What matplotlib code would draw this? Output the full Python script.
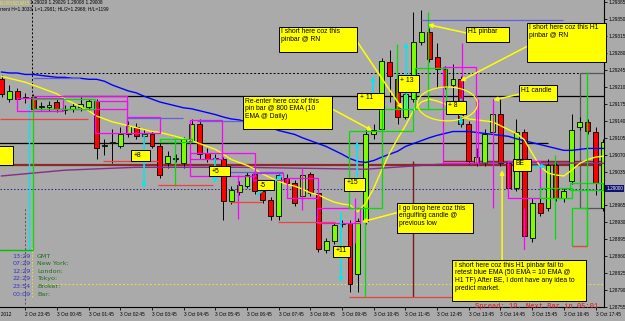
import numpy as np
import matplotlib.pyplot as plt
from matplotlib.patches import Rectangle, Ellipse
from matplotlib.transforms import blended_transform_factory

# EURUSD M15 bars, bar 0 = 2 Oct 23:00
opens = [1.29226, 1.29185, 1.29201, 1.29187, 1.29189, 1.29168, 1.29168, 1.29179, 1.29162, 1.29164,
         1.29168, 1.29168, 1.29181, 1.29087, 1.29095, 1.29089, 1.29113, 1.29128, 1.29109, 1.29113,
         1.29089, 1.29052, 1.29062, 1.29052, 1.29099, 1.29134, 1.29074, 1.29062, 1.29062, 1.28974,
         1.28992, 1.29005, 1.29031, 1.28994, 1.28976, 1.28943, 1.29021, 1.29011, 1.28984, 1.29031,
         1.28990, 1.28872, 1.28892, 1.28927, 1.28929, 1.28823, 1.28933, 1.29113, 1.29123, 1.29261,
         1.29226, 1.29148, 1.29185, 1.29304, 1.29324, 1.29273, 1.29248, 1.29214, 1.29226, 1.29134,
         1.29052, 1.29052, 1.29117, 1.29154, 1.29052, 1.29001, 1.29117, 1.28898, 1.28970, 1.28960,
         1.29048, 1.28980, 1.29015, 1.29128, 1.29138, 1.29117, 1.28960]
highs = [1.29234, 1.29214, 1.29209, 1.29197, 1.29195, 1.29179, 1.29181, 1.29185, 1.29173, 1.29177,
         1.29189, 1.29185, 1.29185, 1.29103, 1.29123, 1.29128, 1.29140, 1.29136, 1.29123, 1.29119,
         1.29095, 1.29078, 1.29072, 1.29107, 1.29144, 1.29144, 1.29083, 1.29072, 1.29066, 1.29005,
         1.29015, 1.29035, 1.29042, 1.29001, 1.28982, 1.29031, 1.29031, 1.29017, 1.29042, 1.29035,
         1.28997, 1.28898, 1.28931, 1.28935, 1.28935, 1.28939, 1.29123, 1.29134, 1.29271, 1.29287,
         1.29230, 1.29205, 1.29365, 1.29369, 1.29332, 1.29302, 1.29254, 1.29257, 1.29232, 1.29140,
         1.29083, 1.29123, 1.29185, 1.29185, 1.29058, 1.29144, 1.29123, 1.28980, 1.28980, 1.29062,
         1.29054, 1.29001, 1.29154, 1.29148, 1.29144, 1.29128, 1.29103]
lows = [1.29189, 1.29179, 1.29177, 1.29177, 1.29158, 1.29162, 1.29160, 1.29158, 1.29154, 1.29158,
        1.29160, 1.29160, 1.29062, 1.29070, 1.29052, 1.29083, 1.29107, 1.29103, 1.29095, 1.29083,
        1.29021, 1.29042, 1.29054, 1.29042, 1.29095, 1.29062, 1.29054, 1.29052, 1.28935, 1.28968,
        1.28986, 1.29001, 1.28988, 1.28970, 1.28935, 1.28935, 1.29005, 1.28964, 1.28980, 1.28984,
        1.28868, 1.28866, 1.28886, 1.28921, 1.28786, 1.28786, 1.28927, 1.29103, 1.29117, 1.29179,
        1.29134, 1.29144, 1.29179, 1.29297, 1.29261, 1.29211, 1.29205, 1.29164, 1.29128, 1.29050,
        1.29046, 1.29046, 1.29111, 1.29046, 1.28980, 1.28994, 1.28874, 1.28890, 1.28943, 1.28954,
        1.28974, 1.28972, 1.29009, 1.29121, 1.29113, 1.28986, 1.28954]
closes = [1.29195, 1.29201, 1.29185, 1.29189, 1.29164, 1.29171, 1.29173, 1.29164, 1.29164, 1.29171,
          1.29175, 1.29181, 1.29083, 1.29091, 1.29097, 1.29113, 1.29130, 1.29109, 1.29113, 1.29089,
          1.29027, 1.29068, 1.29064, 1.29103, 1.29134, 1.29072, 1.29062, 1.29064, 1.28974, 1.28997,
          1.29007, 1.29027, 1.28994, 1.28976, 1.28943, 1.29027, 1.29011, 1.28970, 1.29027, 1.28990,
          1.28874, 1.28892, 1.28925, 1.28929, 1.28802, 1.28933, 1.29113, 1.29121, 1.29263, 1.29232,
          1.29148, 1.29195, 1.29304, 1.29324, 1.29267, 1.29248, 1.29211, 1.29226, 1.29134, 1.29056,
          1.29066, 1.29113, 1.29154, 1.29052, 1.29001, 1.29117, 1.28902, 1.28970, 1.28949, 1.29048,
          1.28980, 1.28994, 1.29121, 1.29138, 1.29119, 1.29011, 1.29097]

# 10 EMA (yellow) and 50 EMA (blue)
ema_fast = [1.29232, 1.29228, 1.29224, 1.29220, 1.29214, 1.29208, 1.29202, 1.29196, 1.29185, 1.29177,
            1.29169, 1.29161, 1.29150, 1.29144, 1.29138, 1.29134, 1.29130, 1.29126, 1.29122, 1.29118,
            1.29116, 1.29112, 1.29108, 1.29103, 1.29099, 1.29093, 1.29087, 1.29081, 1.29071, 1.29060,
            1.29054, 1.29048, 1.29040, 1.29030, 1.29022, 1.29015, 1.29009, 1.29005, 1.28999, 1.28991,
            1.28987, 1.28979, 1.28972, 1.28968, 1.28966, 1.28952, 1.28970, 1.29001, 1.29038, 1.29073,
            1.29103, 1.29130, 1.29161, 1.29179, 1.29185, 1.29181, 1.29175, 1.29165, 1.29150, 1.29144,
            1.29142, 1.29140, 1.29138, 1.29130, 1.29122, 1.29114, 1.29101, 1.29073, 1.29046, 1.29032,
            1.29028, 1.29026, 1.29038, 1.29052, 1.29060, 1.29065, 1.29067]
ema_slow = [1.29241, 1.29239, 1.29239, 1.29236, 1.29236, 1.29234, 1.29232, 1.29230, 1.29230, 1.29228,
            1.29228, 1.29226, 1.29226, 1.29222, 1.29214, 1.29208, 1.29202, 1.29198, 1.29191, 1.29185,
            1.29179, 1.29175, 1.29171, 1.29167, 1.29165, 1.29161, 1.29157, 1.29153, 1.29148, 1.29144,
            1.29142, 1.29138, 1.29134, 1.29130, 1.29126, 1.29120, 1.29116, 1.29112, 1.29105, 1.29099,
            1.29093, 1.29087, 1.29079, 1.29071, 1.29062, 1.29056, 1.29054, 1.29058, 1.29065, 1.29071,
            1.29077, 1.29087, 1.29093, 1.29099, 1.29105, 1.29110, 1.29114, 1.29118, 1.29118, 1.29118,
            1.29116, 1.29114, 1.29112, 1.29110, 1.29108, 1.29103, 1.29099, 1.29095, 1.29091, 1.29087,
            1.29083, 1.29079, 1.29079, 1.29081, 1.29083, 1.29083, 1.29083]
ema_long_bars = [0, 8, 17, 30, 38, 46, 55, 64, 76]
ema_long = [1.29026, 1.29038, 1.29044, 1.29044, 1.29042, 1.29040, 1.29050, 1.29054, 1.29052]

price_ticks = [1.28755, 1.28790, 1.28825, 1.28860, 1.28895, 1.28930, 1.28965, 1.29000, 1.29035,
               1.29070, 1.29105, 1.29140, 1.29175, 1.29210, 1.29245, 1.29280, 1.29315, 1.29350, 1.29385]
time_bars = [3, 7, 11, 15, 19, 23, 27, 31, 35, 39, 43, 47, 51, 55, 59, 63, 67, 71, 75]
time_labels = ["2 Oct 23:45", "3 Oct 00:45", "3 Oct 01:45", "3 Oct 02:45", "3 Oct 03:45",
               "3 Oct 04:45", "3 Oct 05:45", "3 Oct 06:45", "3 Oct 07:45", "3 Oct 08:45",
               "3 Oct 09:45", "3 Oct 10:45", "3 Oct 11:45", "3 Oct 12:45", "3 Oct 13:45",
               "3 Oct 14:45", "3 Oct 15:45", "3 Oct 16:45", "3 Oct 17:45"]
bid = 1.29000

clock_times = ["13:29", "07:29", "12:29", "22:29", "23:54", "00:09"]
clock_names = ["GMT", "New York:", "London:", "Tokyo:", "Broker:", "Bar:"]

# trade notes: text, bar from, bar to, price low, price high
notes = [
    ("I short here coz this\npinbar @ RN", 35.0, 44.9, 1.29282, 1.29335),
    ("H1 pinbar", 58.65, 64.1, 1.29304, 1.29335),
    ("I short here coz this H1\npinbar @ RN", 66.35, 76.3, 1.29261, 1.29343),
    ("H1 candle", 65.3, 70.1, 1.29181, 1.29214),
    ("+ 13", 50.06, 52.7, 1.29200, 1.29234),
    ("+ 11", 44.9, 48.3, 1.29165, 1.29198),
    ("+ 8", 56.1, 58.65, 1.29155, 1.29181),
    ("Re-enter here coz of this\npin bar @ 800 EMA (10\nEMA @ Daily)", 30.5, 41.7, 1.29124, 1.29191),
    ("+8", 16.35, 18.75, 1.29056, 1.29079),
    ("+5", 26.2, 28.85, 1.29026, 1.29046),
    ("-5", 32.26, 34.4, 1.28997, 1.29017),
    ("+15", 43.25, 45.9, 1.28995, 1.29022),
    ("BE", 64.6, 66.86, 1.29036, 1.29062),
    ("+11", 41.85, 44.0, 1.28858, 1.28882),
    ("I go long here coz this\nengulfing candle @\nprevious low", 49.9, 59.5, 1.28909, 1.28970),
    ("I short here coz this H1 pinbar fail to\nretest blue EMA (50 EMA = 10 EMA @\n"
     "H1 TF) After BE, I dont have any idea to\npredict market.", 56.9, 73.8, 1.28768, 1.28852),
    ("", -0.5, 1.45, 1.29048, 1.29089),
]
note_arrows = [(44.9, 1.29304, 50.6, 1.29165), (58.65, 1.29322, 53.85, 1.29339),
               (66.35, 1.29294, 57.9, 1.29222), (65.3, 1.29195, 62.1, 1.29183),
               (41.7, 1.29165, 46.8, 1.29120), (49.9, 1.28950, 45.5, 1.28931),
               (63.2, 1.28852, 63.2, 1.29038)]
trade_arrows = [(18.0, 1.29110, 18.0, 1.29001), (26.95, 1.29062, 26.95, 1.29011),
                (32.3, 1.28987, 35.5, 1.29028), (44.9, 1.29022, 44.9, 1.29097),
                (46.9, 1.29165, 46.9, 1.29232), (51.1, 1.29165, 51.1, 1.29302),
                (58.0, 1.29185, 58.0, 1.29130), (67.1, 1.29046, 68.75, 1.29046),
                (42.86, 1.28950, 42.86, 1.28807)]

# drawn boxes: bar from, bar to, price low, price high
pink_boxes = [(2.0, 7.8, 1.29161, 1.29187), (4.0, 15.85, 1.29164, 1.29191), (11.8, 15.85, 1.29114, 1.29181),
              (15.85, 20.0, 1.29114, 1.29148), (23.8, 27.8, 1.29062, 1.29142), (23.8, 32.0, 1.29026, 1.29073),
              (31.8, 35.5, 1.29017, 1.29032), (36.0, 40.0, 1.28981, 1.29022), (55.8, 59.9, 1.29052, 1.29251),
              (64.0, 68.0, 1.28981, 1.29056), (39.8, 45.3, 1.28929, 1.28960)]
pink_lines = [(29.9, 1.28936, 1.29028), (37.9, 1.28956, 1.29042), (44.6, 1.28888, 1.28981),
              (60.2, 1.29048, 1.29185), (62.1, 1.28960, 1.29185), (66.0, 1.28874, 1.28960),
              (58.1, 1.29165, 1.29302)]
green_boxes = [(4.0, 11.8, 1.29165, 1.29185), (20.0, 24.05, 1.29097, 1.29103), (43.9, 48.05, 1.28960, 1.29120),
               (48.05, 52.0, 1.29120, 1.29165), (52.2, 56.1, 1.29165, 1.29249), (68.0, 72.0, 1.28981, 1.29001),
               (71.8, 76.0, 1.28997, 1.29011), (72.0, 73.9, 1.28882, 1.28960)]
green_lines = [(21.9, 1.29005, 1.29103), (45.9, 1.28776, 1.28960), (53.85, 1.29165, 1.29365),
               (49.9, 1.29165, 1.29298), (69.9, 1.28895, 1.29069), (73.9, 1.28882, 1.29241),
               (3.98, 1.28872, 1.29191)]
stop_lines = [(1.29144, -0.2, 10.9), (1.29056, 12.8, 19.8), (1.29007, 19.8, 26.7), (1.28972, 28.85, 32.9),
              (1.28931, 34.9, 42.1), (1.28776, 43.9, 56.9), (1.28882, 72.0, 73.9)]
target_lines = [(1.29228, 4.0, 9.9), (1.29146, 15.85, 22.9), (1.29140, 24.7, 31.75),
                (1.29034, 28.85, 35.5), (1.29349, 53.0, 70.9)]

BG = '#aaaaaa'
fig = plt.figure(figsize=(6.25, 3.21), dpi=100, facecolor=BG)
ax = fig.add_axes([0, 14 / 321, 604 / 625, 307 / 321], facecolor=BG)
ax.set_xlim(-0.19, 76.07)
ax.set_ylim(1.28762, 1.29390)

# levels
ax.axhline(1.29048, color='#8b2a2a', lw=1.6, zorder=1)
ax.hlines(1.29057, 55.7, 77, color='#8b2a2a', lw=1.0, zorder=1)
ax.hlines(1.29191, 7.8, 77, color='black', lw=0.9, zorder=1)
ax.hlines(1.29095, -1, 69, color='black', lw=0.9, zorder=1)
ax.hlines(1.29240, 3.9, 77, color='black', lw=0.7, ls=(0, (2, 2)), zorder=1)
ax.axhline(bid, color='#20208a', lw=0.7, ls=(0, (1.5, 2)), zorder=1)
ax.hlines(1.28803, 4.5, 77, color='#e8e040', lw=0.8, ls=(0, (1.5, 2)), zorder=1)
ax.vlines(3.9, 1.29191, 1.294, color='black', lw=0.7, ls=(0, (2, 2)), zorder=1)
ax.vlines(3.0, 1.28762, 1.28960, color='#555555', lw=0.7, ls=(0, (2, 2)), zorder=1)
ax.vlines(3.9, 1.28775, 1.28880, color='#e8e040', lw=0.7, ls=(0, (1.5, 2)), zorder=1)
ax.vlines(52.0, 1.28776, 1.29056, color='#7a1a1a', lw=1.0, zorder=1)
ax.vlines(3.47, 1.28872, 1.29175, color='#00e8f0', lw=1.0, zorder=4)
ax.hlines(1.28872, -1, 3.98, color='#00c000', lw=1.0, zorder=4)
ax.add_patch(Rectangle((73.1, 1.28960), 3.2, 0.0028, fill=False, ec='#555555', lw=0.9, zorder=1))

# candles
x = np.arange(len(opens))
o = np.array(opens)
c = np.array(closes)
ax.vlines(x, lows, highs, color='black', lw=0.7, zorder=2)
body = np.maximum(np.abs(c - o), 0.000015)
ax.bar(x, body, bottom=np.minimum(o, c), width=0.62,
       color=np.where(c >= o, '#7cfc00', '#ff0000'), edgecolor='black', linewidth=0.6, zorder=3)

# indicators
ax.plot(ema_long_bars, ema_long, color='#8a2a8a', lw=1.0, zorder=4)
ax.plot(x, ema_slow, color='#0000ff', lw=1.0, zorder=4)
ax.plot(x, ema_fast, color='#ffff00', lw=1.0, zorder=4)

# drawn objects
for b0, b1, p0, p1 in pink_boxes:
    ax.add_patch(Rectangle((b0, p0), b1 - b0, p1 - p0, fill=False, ec='#ff00ff', lw=0.9, zorder=5))
for b, p0, p1 in pink_lines:
    ax.vlines(b, p0, p1, color='#ff00ff', lw=0.9, zorder=5)
for b0, b1, p0, p1 in green_boxes:
    ax.add_patch(Rectangle((b0, p0), b1 - b0, p1 - p0, fill=False, ec='#00e000', lw=0.9, zorder=5))
for b, p0, p1 in green_lines:
    ax.vlines(b, p0, p1, color='#00e000', lw=0.9, zorder=5)
for p, b0, b1 in stop_lines:
    ax.hlines(p, b0, b1, color='#ee4040', lw=0.9, zorder=5)
for p, b0, b1 in target_lines:
    ax.hlines(p, b0, b1, color='#6060e0', lw=0.9, zorder=5)
ax.add_patch(Ellipse((56.3, 1.29175), 7.6, 0.0007, fill=False, ec='#ffff00', lw=0.9, zorder=6))

for b0, p0, b1, p1 in trade_arrows:
    ax.annotate('', xy=(b1, p1), xytext=(b0, p0), zorder=6,
                arrowprops=dict(arrowstyle='-|>', color='#00e8f0', lw=1.2, mutation_scale=5,
                                shrinkA=0, shrinkB=0))
for b0, p0, b1, p1 in note_arrows:
    ax.annotate('', xy=(b1, p1), xytext=(b0, p0), zorder=7,
                arrowprops=dict(arrowstyle='-|>', color='#ffff00', lw=1.1, mutation_scale=6,
                                shrinkA=0, shrinkB=0))

for txt, b0, b1, p0, p1 in notes:
    ax.add_patch(Rectangle((b0, p0), b1 - b0, p1 - p0, fc='#ffff00', ec='black', lw=0.7,
                           zorder=8, clip_on=False))
    ax.text(b0 + 0.3, p1 - 0.00003, txt, ha='left', va='top', fontsize=4.9,
            family='Liberation Sans', linespacing=1.15, zorder=9)

# axes look
for s in ['top', 'left']:
    ax.spines[s].set_visible(False)
for s in ['right', 'bottom']:
    ax.spines[s].set_color('black')
    ax.spines[s].set_linewidth(0.8)
ax.yaxis.tick_right()
ax.set_yticks(price_ticks)
# the bid label box replaces the regular label at the bid price
ax.set_yticklabels(["" if p == bid else f"{p:.5f}" for p in price_ticks], family='Liberation Sans')
ax.tick_params(axis='y', labelsize=3.4, length=2, pad=1.0, width=0.6)
ax.set_xticks(time_bars)
ax.set_xticklabels(time_labels, ha='left', family='Liberation Sans')
ax.tick_params(axis='x', labelsize=3.4, length=2, pad=1.5, width=0.6)

yb = blended_transform_factory(ax.transAxes, ax.transData)
ax.text(1.004, bid, "1.29000", transform=yb, ha='left', va='center', fontsize=3.4, color='white',
        family='Liberation Sans',
        bbox=dict(boxstyle='square,pad=0.2', fc='#101070', ec='none'), clip_on=False, zorder=10)

fig.text(-12 / 625, 7 / 321, "2 Oct 2012", fontsize=3.4, ha='left', va='center', family='Liberation Sans')

for k, (t, n) in enumerate(zip(clock_times, clock_names)):
    yy = (321 - 256 - 7.6 * k) / 321
    fig.text(31 / 625, yy, t, ha='right', va='center', fontsize=4.6, color='#3535c8')
    fig.text(37 / 625, yy, n, ha='left', va='center', fontsize=4.6, color='#1e6e1e')

fig.text(598 / 625, (321 - 306) / 321, "Spread: 19. Next Bar in 05:01", ha='right', va='center',
         fontsize=5.0, family='Liberation Mono', color='#e01010')
fig.text(0.0, (321 - 2.5) / 321, "EURUSD,M15", ha='left', va='center', fontsize=3.4,
         family='Liberation Sans', color='#e8e040')
fig.text(30 / 625, (321 - 2.5) / 321, "1.29029 1.29029 1.29008 1.29008", ha='left', va='center',
         fontsize=3.4, family='Liberation Sans', color='black')
fig.text(0.0, (321 - 9) / 321, "rrent H=1.3033; L=1.2981; HL/2=1.2968; H/L=1199", ha='left',
         va='center', fontsize=3.4, family='Liberation Sans', color='black')

fig.savefig('out.png', dpi=100, facecolor=BG)
